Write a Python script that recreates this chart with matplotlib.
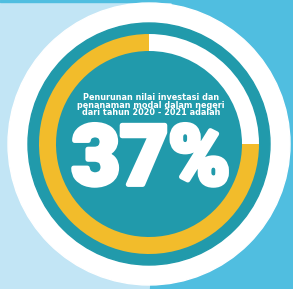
import matplotlib.pyplot as plt
import matplotlib.patheffects as pe
from matplotlib.patches import Circle, Polygon, Rectangle

# ring values as drawn (white remainder, yellow part)
ring_labels = ['sisa', 'penurunan']
ring_values = [25, 75]
ring_colors = ['white', '#f2bc2b']

caption = 'Penurunan nilai investasi dan\npenanaman modal dalam negeri\ndari tahun 2020 - 2021 adalah'
big_value = '37%'

W, H = 293, 289
fig = plt.figure(figsize=(W / 100, H / 100), dpi=100)
ax = fig.add_axes([0, 0, 1, 1])
ax.set_xlim(0, W)
ax.set_ylim(0, H)
ax.set_aspect('equal')
ax.axis('off')

# background
ax.add_patch(Rectangle((0, 0), W, H, color='#c2e5f5', zorder=0))
ax.add_patch(Polygon([(172, H), (W, H), (W, 0), (150, 0)], color='#50bee0', zorder=0))
ax.add_patch(Rectangle((0, H - 2), W, 2, color='#50bee0', zorder=0))

cx, cy = 149, H - 144
ax.add_patch(Circle((cx, cy), 141, color='white', zorder=1))
ax.add_patch(Circle((cx, cy), 121, color='#219aab', zorder=2))

wedges, _ = ax.pie(ring_values, colors=ring_colors, startangle=90, counterclock=False,
                   radius=110, center=(cx, cy), wedgeprops=dict(width=17, linewidth=0))
for w in wedges:
    w.set_zorder(3)
ax.set_xlim(0, W)
ax.set_ylim(0, H)

ax.text(cx + 2, H - 105, caption, ha='center', va='center', color='white',
        fontsize=5.9, fontweight='bold', family='DejaVu Sans', linespacing=0.8, zorder=4)
ax.text(cx + 2, H - 162, big_value, ha='center', va='center', color='white',
        fontsize=60, fontweight='black', family='Roboto', zorder=4,
        path_effects=[pe.withStroke(linewidth=3.5, foreground='white')])

fig.savefig('out.png', dpi=100)
